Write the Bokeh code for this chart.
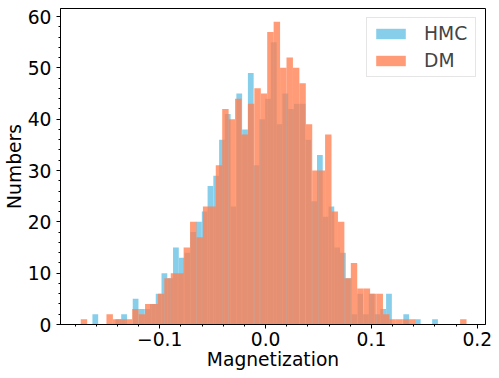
import numpy as np
from bokeh.plotting import figure
from bokeh.models import Range1d, FixedTicker
from bokeh.embed import file_html
from bokeh.resources import INLINE

# ---- data ----
hmc_counts = [2, 0, 0, 0, 1, 2, 0, 5, 3, 3, 4, 6, 10, 9, 15, 13, 14, 18, 20, 22,
              27, 29, 36, 41, 23, 45, 38, 49, 31, 40, 44, 55, 39, 45, 42, 43, 43, 36, 24, 33,
              21, 23, 15, 14, 9, 2, 6, 2, 6, 2, 3, 6, 0, 0, 2, 0, 1, 0, 0, 1]
hmc_range = (-0.16362, 0.16277)

dm_counts = [1, 0, 0, 0, 2, 1, 1, 1, 3, 2, 4, 4, 6, 9, 10, 10, 15, 20, 17, 23,
             23, 31, 42, 40, 44, 37, 43, 46, 45, 57, 59, 50, 52, 50, 47, 39, 30, 30, 37, 22,
             20, 9, 12, 7, 7, 6, 6, 2, 1, 1, 1, 1, 0, 0, 0, 0, 0, 0, 0, 1]
dm_range = (-0.17465, 0.18982)

series_names = ["HMC", "DM"]

x_tick_values = [-0.1, 0.0, 0.1, 0.2]
x_tick_labels = ["\u22120.1", "0.0", "0.1", "0.2"]
y_tick_values = [0, 10, 20, 30, 40, 50, 60]

x_label = "Magnetization"
y_label = "Numbers"

# ---- figure ----
FONT = "DejaVu Sans"
FS = "18.7px"

p = figure(width=499, height=378, output_backend="svg", toolbar_location=None,
           x_range=Range1d(-0.19378, 0.20773), y_range=Range1d(0, 61.56),
           min_border_left=59, min_border_right=14, min_border_top=8, min_border_bottom=54)

p.background_fill_color = "white"
p.border_fill_color = "white"
p.xgrid.visible = False
p.ygrid.visible = False
p.outline_line_color = "black"
p.outline_line_width = 1

def edges(rng, n):
    return np.linspace(rng[0], rng[1], n + 1)

he = edges(hmc_range, len(hmc_counts))
de = edges(dm_range, len(dm_counts))

p.quad(left=he[:-1], right=he[1:], bottom=0, top=hmc_counts,
       fill_color="#87CEEB", fill_alpha=1.0, line_color=None, legend_label=series_names[0])
p.quad(left=de[:-1], right=de[1:], bottom=0, top=dm_counts,
       fill_color="#FF7F50", fill_alpha=0.78, line_color=None, legend_label=series_names[1])

# axes
x_minor = [round(-0.18 + 0.02 * i, 2) for i in range(20)]
y_minor = list(range(0, 62, 2))
p.xaxis.ticker = FixedTicker(ticks=x_tick_values, minor_ticks=x_minor)
p.xaxis.major_label_overrides = {v: t for v, t in zip(x_tick_values, x_tick_labels)}
p.yaxis.ticker = FixedTicker(ticks=y_tick_values, minor_ticks=y_minor)

p.xaxis.axis_label = x_label
p.yaxis.axis_label = y_label

for ax in (p.xaxis, p.yaxis):
    ax.axis_line_color = "black"
    ax.major_tick_line_color = "black"
    ax.minor_tick_line_color = "black"
    ax.major_tick_in = 0
    ax.major_tick_out = 4
    ax.minor_tick_in = 0
    ax.minor_tick_out = 2
    ax.major_label_text_font = FONT
    ax.major_label_text_font_size = FS
    ax.major_label_text_color = "black"
    ax.major_label_text_line_height = 1.0
    ax.axis_label_text_font = FONT
    ax.axis_label_text_font_size = FS
    ax.axis_label_text_font_style = "normal"
    ax.axis_label_text_color = "black"
    ax.axis_label_text_line_height = 1.0
p.xaxis.major_label_standoff = 3
p.xaxis.axis_label_standoff = 0
p.yaxis.major_label_standoff = 5
p.yaxis.axis_label_standoff = 0

# legend
lg = p.legend[0]
lg.location = "top_right"
lg.margin = 9
lg.padding = 5
lg.spacing = 6
lg.glyph_width = 37
lg.glyph_height = 13
lg.label_standoff = 15
lg.label_width = 46
lg.label_text_font = FONT
lg.label_text_font_size = FS
lg.label_text_line_height = 1.0
lg.border_line_color = "#cccccc"
lg.border_line_width = 1
lg.background_fill_alpha = 0.8

open("out.html", "w").write(file_html(p, INLINE))
